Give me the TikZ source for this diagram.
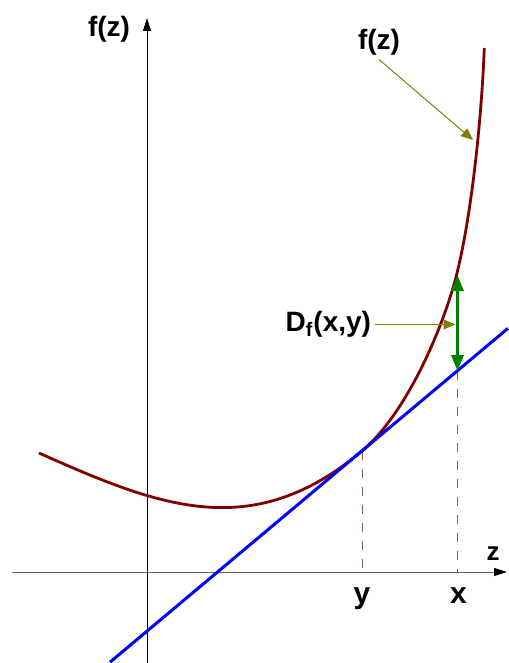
\documentclass[tikz,border=0pt]{standalone}
\usepackage{fontspec}
\setmainfont{Liberation Sans}
\usepackage{tikz}
\usetikzlibrary{calc, positioning}
\usetikzlibrary{arrows.meta}
\definecolor{curvered}{RGB}{128,0,0}
\definecolor{tanblue}{RGB}{0,0,255}
\definecolor{gapgreen}{RGB}{0,128,0}
\definecolor{pointolive}{RGB}{128,128,0}
\definecolor{guidebrown}{RGB}{140,95,75}
\definecolor{axisgray}{RGB}{100,100,100}

\begin{document}
\begin{tikzpicture}[x=0.5pt, y=-0.5pt,
    lab/.style={font=\fontsize{14}{16}\selectfont\bfseries, inner sep=0pt, outer sep=2pt},
    axis/.style={line width=0.5pt, -{Triangle[length=6.5pt, width=4pt, black]}},
    fcurve/.style={curvered, line width=1.4pt},
    tanline/.style={tanblue, line width=1.5pt},
    guide/.style={guidebrown, line width=0.5pt, dash pattern=on 4.5pt off 4.5pt},
    pointer/.style={pointolive, line width=0.5pt, -{Triangle[length=6pt, width=5pt]}},
    gap/.style={gapgreen, line width=1.6pt, {Triangle[length=8pt, width=6pt]}-{Triangle[length=8pt, width=6pt]}}]

    \useasboundingbox (0,0) rectangle (508,663);

    % points on the axes and on the curves
    \coordinate (hleft) at (12,572);
    \coordinate (hright) at (507,572);
    \coordinate (vbot) at (147,663);
    \coordinate (vtop) at (147,18);
    \coordinate (tanstart) at (110,662.2);
    \coordinate (tanend) at (508,328.3);
    \coordinate (tanpt) at (362,451);
    \coordinate (fx) at (457.5,275);
    \coordinate (lx) at (457.5,371);
    \coordinate (yfoot) at (362,572);
    \coordinate (xfoot) at (457.5,572);
    \coordinate (fpt) at (473,140);

    % dashed guides down to the axis
    \draw [guide] (tanpt) -- (yfoot);
    \draw [guide] (lx) -- (xfoot);

    % axes
    \draw [axis, axisgray] (hleft) -- (hright);
    \draw [axis] (vbot) -- (vtop);

    % the convex function
    \draw [fcurve] (39,453) .. controls (160,507) and (252,543.3) .. (tanpt)
        .. controls (407,413.2) and (443.1,327) .. (456,277)
        .. controls (471.5,217) and (481.6,118) .. (484.3,48);

    % tangent at y
    \draw [tanline] (tanstart) -- (tanend);

    % gap between f(x) and the tangent
    \draw [gap] (fx) -- (lx);

    % labels
    \node [lab] (fzaxis) at (109,29) {f(z)};
    \node [lab] (fzcurve) at (379,42.5) {f(z)};
    \node [lab, anchor=base west] (dlab) at (281.7,331.7) {D\textsubscript{f}(x,y)};
    \node [lab, font=\fontsize{15}{17}\selectfont\bfseries, anchor=base] (ylab) at (362,603.5) {y};
    \node [lab, font=\fontsize{15}{17}\selectfont\bfseries, anchor=base] (xlab) at (458.5,603.5) {x};
    \node [lab, font=\fontsize{13}{15}\selectfont\bfseries, anchor=base] (zlab) at (493,560) {z};

    \draw [pointer] (fzcurve.south) -- (fpt);
    \draw [pointer, shorten >=1pt] (dlab.east) -- (dlab.east -| fx);

\end{tikzpicture}
\end{document}
